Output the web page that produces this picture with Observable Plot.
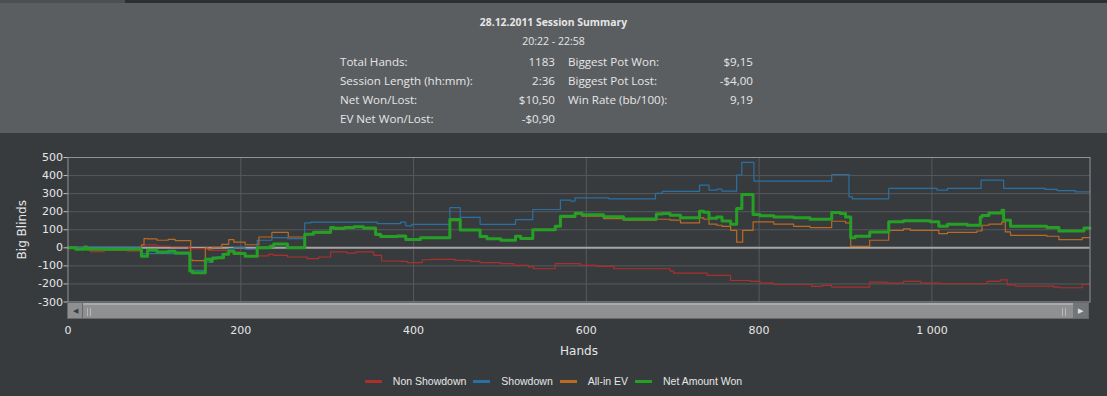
<!DOCTYPE html>
<html><head><meta charset="utf-8">
<script src="https://cdn.jsdelivr.net/npm/d3@7"></script>
<script src="https://cdn.jsdelivr.net/npm/@observablehq/plot@0.6"></script>
<style>
html,body{margin:0;padding:0}
body{width:1107px;height:396px;background:#383b3e;overflow:hidden;position:relative;font-family:"Open Sans",sans-serif;}
#strip{position:absolute;left:0;top:0;width:1107px;height:3px;background:#2c2f32}
#tab{position:absolute;left:0;top:0;width:125px;height:3px;background:#4b4f52}
#header{position:absolute;left:0;top:3px;width:1107px;height:130px;background:#5a5e61;color:#e6e6e6}
.t{position:absolute;white-space:nowrap;font-size:11.6px;line-height:14px}
#title{position:absolute;left:0;width:1107px;text-align:center;top:12px;font-weight:bold;font-size:10.4px;line-height:14px}
#sub{position:absolute;left:0;width:1107px;text-align:center;top:31px;font-size:10.5px;line-height:14px}
#chart{position:absolute;left:0;top:140px}
#scroll{position:absolute;left:67px;top:302px;width:1022px;height:17px;background:#66696b}
#lbtn{position:absolute;left:1px;top:1px;width:14px;height:15px;background:#8d8f91;color:#3a3c3e;font-size:7px;line-height:15px;text-align:center}
#thumb{position:absolute;left:16px;top:1px;width:990px;height:13px;background:#8e9092;border-top:2px solid #a8aaac}
#rbtn{position:absolute;right:1px;top:1px;width:15px;height:15px;background:#737679;color:#e0e0e0;font-size:7px;line-height:15px;text-align:center}
.grip{position:absolute;top:3px;width:1px;height:8px;background:#b5b7b9}
#legend{position:absolute;left:0;top:373px;width:1107px;display:flex;justify-content:center;font-family:"Liberation Sans",sans-serif;font-size:10.5px;color:#e6e6e6;line-height:16px}
.item{display:flex;align-items:center;margin:0 3.5px}
.sw{width:17px;height:3px;margin-right:11px}
</style></head>
<body>
<div id="strip"></div><div id="tab"></div>
<div id="header">
  <div id="title"></div>
  <div id="sub"></div>
</div>
<div id="chart"></div>
<div id="scroll"><div id="lbtn">&#9664;</div><div id="thumb"><div class="grip" style="left:4px"></div><div class="grip" style="left:7px"></div><div class="grip" style="left:979px"></div><div class="grip" style="left:982px"></div></div><div id="rbtn">&#9654;</div></div>
<div id="legend"></div>
<script>
// ---- Texts ----
const titleText = "28.12.2011 Session Summary";
const subtitleText = "20:22 - 22:58";
const statLabelsLeft = ["Total Hands:", "Session Length (hh:mm):", "Net Won/Lost:", "EV Net Won/Lost:"];
const statValuesLeft = ["1183", "2:36", "$10,50", "-$0,90"];
const statLabelsRight = ["Biggest Pot Won:", "Biggest Pot Lost:", "Win Rate (bb/100):"];
const statValuesRight = ["$9,15", "-$4,00", "9,19"];

// ---- Axis ticks ----
const xTicks = [0, 200, 400, 600, 800, 1000];
const xTickLabels = ["0", "200", "400", "600", "800", "1 000"];
const yTicks = [-300, -200, -100, 0, 100, 200, 300, 400, 500];
const yTickLabels = ["-300", "-200", "-100", "0", "100", "200", "300", "400", "500"];

// ---- Series names & colours ----
const seriesNames = ["Non Showdown", "Showdown", "All-in EV", "Net Amount Won"];
const seriesColors = ["#ab302b", "#2a70a2", "#bb6a22", "#25a025"];

// ---- Non Showdown (red) ----
const nsHands = [0,20,26,42,69,85,88,103,119,140,163,184,188,200,205,232,238,254,277,290,304,323,333,354,363,385,393,410,420,448,466,477,501,516,533,539,564,593,612,632,697,701,740,767,790,801,817,861,873,884,928,948,967,987,1010,1064,1079,1087,1097,1141,1147,1174,1183];
const nsValues = [0,-8,-21,-14,-18,14,16,10,6,-5,-14,-19,-23,-32,-45,-36,-42,-51,-60,-51,-23,-29,-23,-42,-73,-75,-82,-66,-64,-69,-75,-82,-88,-97,-106,-116,-88,-97,-103,-116,-129,-140,-153,-181,-186,-195,-203,-214,-208,-218,-190,-195,-186,-195,-199,-186,-177,-205,-212,-218,-221,-203,-203];

// ---- Showdown (blue) ----
const sdHands = [0,85,124,142,159,167,178,186,192,205,219,236,254,274,281,358,385,391,398,442,454,477,518,538,570,582,587,626,680,688,731,742,751,757,774,780,794,884,904,908,950,1006,1018,1057,1083,1131,1145,1166,1183];
const sdValues = [4,-32,-34,-125,-79,-51,-32,-5,0,-8,42,56,51,138,142,134,142,122,130,223,168,130,156,212,264,259,277,271,301,312,347,319,325,314,403,473,369,406,282,271,329,319,329,375,329,323,317,310,310];

// ---- All-in EV (orange) ----
const evHands = [0,9,19,22,85,88,92,103,116,124,142,144,159,162,167,178,186,192,205,221,236,255,274,276,284,304,308,320,331,342,356,362,381,391,408,442,454,477,485,501,518,524,538,564,570,587,595,620,643,681,697,709,731,736,742,751,757,767,774,781,793,817,840,859,884,900,906,928,950,967,975,1008,1018,1052,1058,1066,1081,1085,1091,1133,1147,1174,1183];
const evValues = [0,-8,5,-8,17,51,49,42,47,40,-66,-71,0,-6,3,19,45,32,17,60,86,60,69,75,82,108,104,108,113,106,70,58,62,44,52,150,97,64,50,46,66,55,97,118,170,186,175,162,153,158,153,138,166,158,131,125,119,97,32,97,144,131,119,112,147,138,8,42,97,105,97,79,86,93,125,131,144,88,69,64,45,56,56];

// ---- Net Amount Won (green) ----
const netHands = [0,9,19,22,85,92,103,116,124,141,144,159,165,167,172,180,186,192,205,219,234,238,254,274,284,304,308,320,331,342,356,362,381,391,408,442,454,477,485,501,518,524,538,564,570,587,595,620,643,681,688,697,709,731,736,742,751,757,767,774,780,793,801,817,840,859,884,894,900,906,911,928,950,967,998,1008,1018,1041,1056,1058,1066,1081,1083,1091,1133,1147,1176,1183];
const netValues = [0,-8,5,-8,-47,-14,-23,-19,-29,-129,-138,-64,-75,-58,-55,-36,-18,-32,-47,0,8,21,0,75,86,112,108,112,117,110,75,62,66,46,56,157,99,62,50,42,64,52,100,120,175,192,183,172,160,187,190,180,166,203,197,164,171,148,131,218,295,184,177,171,166,158,195,190,171,56,64,88,144,150,144,119,131,125,171,179,193,208,153,119,112,93,110,110];

// ---- Header ----
document.getElementById("title").textContent = titleText;
document.getElementById("sub").textContent = subtitleText;
const header = document.getElementById("header");
const rowTops = [52, 71, 90, 109]; // relative to header (top 3)
function addText(txt, x, top, alignRight) {
  const d = document.createElement("div");
  d.className = "t";
  d.textContent = txt;
  d.style.top = top + "px";
  if (alignRight) { d.style.right = (1107 - x) + "px"; } else { d.style.left = x + "px"; }
  header.appendChild(d);
}
statLabelsLeft.forEach((s, i) => addText(s, 340, rowTops[i], false));
statValuesLeft.forEach((s, i) => addText(s, 555, rowTops[i], true));
statLabelsRight.forEach((s, i) => addText(s, 568, rowTops[i], false));
statValuesRight.forEach((s, i) => addText(s, 753, rowTops[i], true));

// ---- Data table ----
const rows = [];
[[nsHands, nsValues], [sdHands, sdValues], [evHands, evValues], [netHands, netValues]].forEach(([h, v], k) => {
  h.forEach((x, i) => rows.push({series: seriesNames[k], hand: x, bb: v[i]}));
});
const bySeries = name => rows.filter(r => r.series === name);

const yLabelMap = new Map(yTicks.map((t, i) => [t, yTickLabels[i]]));
const xLabelMap = new Map(xTicks.map((t, i) => [t, xTickLabels[i]]));

const chart = Plot.plot({
  width: 1107,
  height: 222,
  marginLeft: 67.5,
  marginRight: 17.5,
  marginTop: 17,
  marginBottom: 60.5,
  style: {background: "transparent", color: "#e6e6e6", fontFamily: "DejaVu Sans, sans-serif", fontSize: "11px"},
  x: {domain: [0, 1183]},
  y: {domain: [-300, 500]},
  marks: [
    Plot.gridY(yTicks, {stroke: "#56595c", strokeOpacity: 1}),
    Plot.gridX(xTicks.filter(d => d > 0), {stroke: "#56595c", strokeOpacity: 1}),
    Plot.ruleY([0], {stroke: "#a5a5a5", strokeWidth: 2}),
    Plot.line(bySeries(seriesNames[0]), {x: "hand", y: "bb", curve: "step-after", stroke: seriesColors[0], strokeWidth: 1.2}),
    Plot.line(bySeries(seriesNames[1]), {x: "hand", y: "bb", curve: "step-after", stroke: seriesColors[1], strokeWidth: 1.2}),
    Plot.line(bySeries(seriesNames[2]), {x: "hand", y: "bb", curve: "step-after", stroke: seriesColors[2], strokeWidth: 1.2}),
    Plot.line(bySeries(seriesNames[3]), {x: "hand", y: "bb", curve: "step-after", stroke: seriesColors[3], strokeWidth: 3}),
    Plot.frame({stroke: "#909396"}),
    Plot.axisY(yTicks, {tickSize: 4, tickPadding: 1, tickFormat: d => yLabelMap.get(d), label: null, stroke: "#c0c0c0", fill: "#e6e6e6"}),
    Plot.axisX(xTicks, {tickSize: 0, tickPadding: 24, tickFormat: d => xLabelMap.get(d), label: null, fill: "#e6e6e6"}),
    Plot.text(["Hands"], {frameAnchor: "bottom", dy: 49.5, lineAnchor: "middle", fontSize: 12, fill: "#e6e6e6"}),
    Plot.text(["Big Blinds"], {frameAnchor: "left", dx: -46, rotate: -90, lineAnchor: "middle", textAnchor: "middle", fontSize: 12, fill: "#e6e6e6"})
  ]
});
document.getElementById("chart").appendChild(chart);

// ---- Legend ----
const legend = document.getElementById("legend");
seriesNames.forEach((n, i) => {
  const it = document.createElement("div");
  it.className = "item";
  const sw = document.createElement("div");
  sw.className = "sw";
  sw.style.background = seriesColors[i];
  const tx = document.createElement("span");
  tx.textContent = n;
  it.appendChild(sw); it.appendChild(tx);
  legend.appendChild(it);
});
</script>
</body></html>
